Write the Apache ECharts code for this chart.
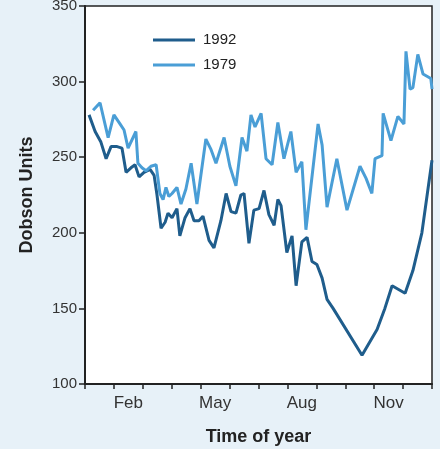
<!DOCTYPE html>
<html>
<head>
<meta charset="utf-8">
<script src="https://cdn.jsdelivr.net/npm/echarts@6/dist/echarts.min.js"></script>
<style>
  html, body { margin: 0; padding: 0; background: #e7f1f8; }
  #chart { width: 440px; height: 449px; }
</style>
</head>
<body>
<div id="chart"></div>
<script>
// Month names for the x axis (ticks sit on month boundaries)
const months = ['Jan', 'Feb', 'Mar', 'Apr', 'May', 'Jun', 'Jul', 'Aug', 'Sep', 'Oct', 'Nov', 'Dec'];
const shownMonths = ['Feb', 'May', 'Aug', 'Nov'];

// Time of year in months since 1 Jan, and total ozone (Dobson Units)
const t1992 = [0.14, 0.35, 0.55, 0.73, 0.90, 1.11, 1.28, 1.42, 1.59, 1.73, 1.87, 2.04, 2.25, 2.39, 2.49, 2.63,
  2.77, 2.87, 3.01, 3.18, 3.28, 3.46, 3.63, 3.77, 3.94, 4.08, 4.29, 4.46, 4.70, 4.88, 5.05, 5.22,
  5.39, 5.50, 5.67, 5.84, 6.02, 6.19, 6.36, 6.54, 6.67, 6.78, 6.98, 7.16, 7.30, 7.50, 7.68, 7.85,
  8.02, 8.20, 8.37, 8.58, 9.58, 10.10, 10.37, 10.62, 11.07, 11.34, 11.65, 12.0];
const ozone1992 = [278, 267, 260, 249, 257, 257, 256, 240, 243, 245, 237, 240, 242, 238, 225, 203,
  207, 213, 210, 216, 198, 210, 216, 208, 208, 211, 195, 190, 208, 226, 214, 213,
  225, 226, 193, 215, 216, 228, 212, 205, 222, 218, 187, 198, 165, 194, 197, 181,
  179, 170, 156, 150, 119, 136, 150, 165, 160, 175, 200, 248];

const t1979 = [0.28, 0.52, 0.80, 1.00, 1.21, 1.35, 1.49, 1.76, 1.83, 1.97, 2.11, 2.28, 2.46, 2.59, 2.70, 2.80,
  2.90, 3.01, 3.18, 3.32, 3.49, 3.67, 3.87, 4.18, 4.36, 4.53, 4.81, 5.01, 5.22, 5.43, 5.60, 5.74,
  5.88, 6.09, 6.26, 6.47, 6.67, 6.88, 7.12, 7.30, 7.50, 7.64, 8.06, 8.20, 8.37, 8.71, 9.06, 9.51,
  9.72, 9.92, 10.03, 10.27, 10.31, 10.58, 10.82, 11.03, 11.10, 11.24, 11.34, 11.51, 11.69, 11.96, 12.0];
const ozone1979 = [281, 286, 263, 278, 272, 268, 256, 267, 246, 243, 241, 244, 245, 226, 222, 230,
  224, 226, 230, 219, 229, 246, 219, 262, 255, 246, 263, 244, 231, 263, 254, 278,
  270, 279, 249, 245, 273, 249, 267, 240, 247, 202, 272, 258, 217, 249, 215, 244,
  236, 226, 249, 251, 279, 261, 277, 272, 320, 295, 296, 318, 305, 302, 295];

const yTicks = { min: 100, max: 350, step: 50 };

const pair = (xs, ys) => xs.map((x, i) => [x, ys[i]]);

const FONT = '"Liberation Sans", Arial, Helvetica, sans-serif';
const DARK = '#1f5d8c';
const LIGHT = '#4a9ed6';

const chart = echarts.init(document.getElementById('chart'), null, { renderer: 'canvas' });
chart.setOption({
  backgroundColor: '#e7f1f8',
  animation: false,
  textStyle: { fontFamily: FONT },
  grid: {
    left: 85, right: 8, top: 6, bottom: 65,
    outerBoundsMode: 'none',
    containLabel: false,
    show: true, backgroundColor: '#ffffff',
    borderColor: '#222', borderWidth: 1.5
  },
  legend: {
    orient: 'vertical',
    left: 153, top: 32, padding: 0,
    itemWidth: 42, itemHeight: 3, itemGap: 9,
    icon: 'rect',
    textStyle: { fontSize: 15, lineHeight: 16, color: '#222', fontFamily: FONT, padding: [0, 0, 0, 3] },
    data: ['1992', '1979']
  },
  xAxis: [
    {
      type: 'category',
      data: months,
      boundaryGap: true,
      position: 'bottom',
      name: 'Time of year',
      nameLocation: 'middle',
      nameGap: 44,
      nameTextStyle: { fontSize: 18, fontWeight: 'bold', color: '#222', fontFamily: FONT },
      axisLine: { lineStyle: { color: '#222', width: 2 } },
      axisTick: { show: true, inside: false, length: 5, interval: 0, lineStyle: { color: '#222', width: 1.5 } },
      axisLabel: {
        interval: 0, fontSize: 17, color: '#333', margin: 11, fontFamily: FONT,
        formatter: v => shownMonths.includes(v) ? v : ''
      },
      splitLine: { show: false }
    },
    {
      type: 'value',
      min: 0, max: 12,
      show: false
    }
  ],
  yAxis: {
    type: 'value',
    min: yTicks.min, max: yTicks.max, interval: yTicks.step,
    name: 'Dobson Units',
    nameLocation: 'middle',
    nameGap: 49,
    nameTextStyle: { fontSize: 18, fontWeight: 'bold', color: '#222', fontFamily: FONT },
    axisLine: { show: true, lineStyle: { color: '#222', width: 2 } },
    axisTick: { show: true, inside: false, length: 6, lineStyle: { color: '#222', width: 1.5 } },
    axisLabel: { fontSize: 15, color: '#333', margin: 8, fontFamily: FONT },
    splitLine: { show: false }
  },
  series: [
    {
      name: '1992', type: 'line', xAxisIndex: 1,
      data: pair(t1992, ozone1992),
      showSymbol: false, symbol: 'none',
      color: DARK,
      lineStyle: { color: DARK, width: 3 }
    },
    {
      name: '1979', type: 'line', xAxisIndex: 1,
      data: pair(t1979, ozone1979),
      showSymbol: false, symbol: 'none',
      color: LIGHT,
      lineStyle: { color: LIGHT, width: 3 }
    }
  ]
});
</script>
</body>
</html>
